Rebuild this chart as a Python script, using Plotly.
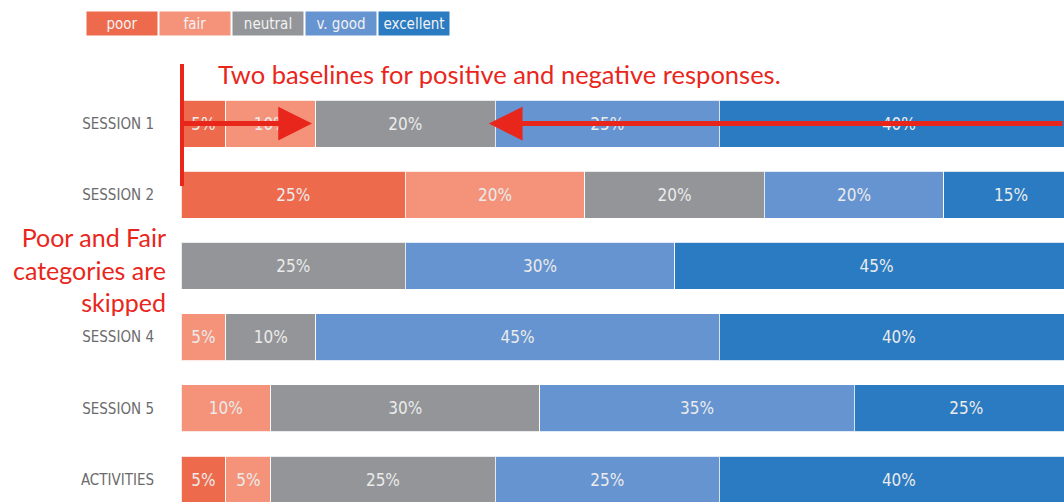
import plotly.graph_objects as go

categories = ["SESSION 1", "SESSION 2", "SESSION 3", "SESSION 4", "SESSION 5", "ACTIVITIES"]
tick_labels = ["SESSION 1", "SESSION 2", "", "SESSION 4", "SESSION 5", "ACTIVITIES"]

poor = [5, 25, None, None, None, 5]
fair = [10, 20, None, 5, 10, 5]
neutral = [20, 20, 25, 10, 30, 25]
v_good = [25, 20, 30, 45, 35, 25]
excellent = [40, 15, 45, 40, 25, 40]

series_names = ["poor", "fair", "neutral", "v. good", "excellent"]
series_values = [poor, fair, neutral, v_good, excellent]
colors = ["#EE6A4C", "#F4937A", "#939598", "#6594D0", "#2A7BC1"]

W, H = 1064, 502
L, T = 181, 88
PLOT_W, PLOT_H = W - L, H - T
COND = "DejaVu Sans Condensed, sans-serif"
RED = "#E9261C"
NOTE_FONT = "Lato, Open Sans, sans-serif"


def px_x(p):
    return (p - L) / PLOT_W


def px_y(p):
    return (H - p) / PLOT_H


fig = go.Figure()
for name, vals, col in zip(series_names, series_values, colors):
    fig.add_trace(
        go.Bar(
            y=categories,
            x=vals,
            name=name,
            orientation="h",
            marker={"color": col, "line": {"color": "rgba(255,255,255,0.8)", "width": 1}},
            texttemplate="%{x}%",
            textposition="inside",
            insidetextanchor="middle",
            textfont={"color": "#EBEBEB", "size": 17, "family": COND},
            showlegend=False,
            hoverinfo="skip",
        )
    )

# legend boxes along the top
legend_left = [86, 159, 232, 305, 378]
for name, col, x0 in zip(series_names, colors, legend_left):
    fig.add_annotation(
        x=px_x(x0), y=px_y(23.5), xref="paper", yref="paper",
        xanchor="left", yanchor="middle",
        text=name, showarrow=False,
        width=66, height=19, bgcolor=col, borderpad=2,
        font={"color": "#F2F2F2", "size": 15, "family": COND},
    )

# red callouts
fig.add_shape(
    type="line", xref="paper", yref="paper",
    x0=px_x(182), x1=px_x(182), y0=px_y(64), y1=px_y(186),
    line={"color": RED, "width": 4},
)
fig.add_annotation(
    x=px_x(216), y=px_y(74), xref="paper", yref="paper",
    xanchor="left", yanchor="middle", showarrow=False,
    text="Two baselines for positive and negative responses.",
    font={"color": RED, "size": 25.5, "family": NOTE_FONT},
)
fig.add_annotation(
    x=px_x(168), y=px_y(269), xref="paper", yref="paper",
    xanchor="right", yanchor="middle", showarrow=False, align="right",
    text="Poor and Fair<br>categories are<br>skipped",
    font={"color": RED, "size": 25, "family": NOTE_FONT},
)
fig.add_annotation(
    x=14.6, y="SESSION 1", xref="x", yref="y",
    ax=-130, ay=0, text="", showarrow=True,
    arrowhead=2, arrowsize=1.35, arrowwidth=5, arrowcolor=RED,
)
fig.add_annotation(
    x=34.3, y="SESSION 1", xref="x", yref="y",
    ax=600, ay=0, text="", showarrow=True,
    arrowhead=2, arrowsize=1.35, arrowwidth=5, arrowcolor=RED,
)

fig.update_layout(
    barmode="stack",
    bargap=0.34,
    width=W,
    height=H,
    margin={"l": L, "r": 0, "t": T, "b": 0},
    plot_bgcolor="white",
    paper_bgcolor="white",
)
fig.update_xaxes(range=[0, 98.4], visible=False)
fig.update_yaxes(
    categoryorder="array",
    categoryarray=categories,
    tickvals=categories,
    ticktext=tick_labels,
    range=[5.315, -0.5],
    showgrid=False,
    zeroline=False,
    ticks="",
    ticklabelstandoff=26,
    tickfont={"color": "#6B6B6B", "size": 15, "family": COND},
)

fig.write_html(
    "out.html",
    config={"displayModeBar": False},
    post_script="document.body.style.margin = '0';",
)
